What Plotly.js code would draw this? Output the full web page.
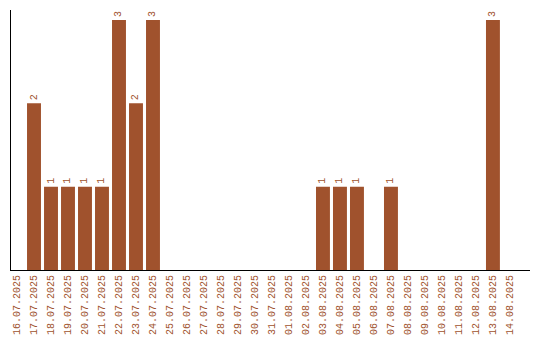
<!DOCTYPE html>
<html><head><meta charset="utf-8">
<script src="https://cdn.plot.ly/plotly-3.0.1.min.js"></script>
<style>html,body{margin:0;padding:0;background:#fff;}#chart{width:540px;height:340px;}</style>
</head><body><div id="chart"></div>
<script>
const dates = ["16.07.2025","17.07.2025","18.07.2025","19.07.2025","20.07.2025","21.07.2025","22.07.2025","23.07.2025","24.07.2025","25.07.2025","26.07.2025","27.07.2025","28.07.2025","29.07.2025","30.07.2025","31.07.2025","01.08.2025","02.08.2025","03.08.2025","04.08.2025","05.08.2025","06.08.2025","07.08.2025","08.08.2025","09.08.2025","10.08.2025","11.08.2025","12.08.2025","13.08.2025","14.08.2025"];
const counts = [0,2,1,1,1,1,3,2,3,0,0,0,0,0,0,0,0,0,1,1,1,0,1,0,0,0,0,0,3,0];
const labels = counts.map(v => v > 0 ? String(v) : "");
const color = "#a0522d";
const font = "Liberation Mono, monospace";
Plotly.newPlot("chart", [{
  type: "bar", x: dates, y: counts, text: labels,
  textposition: "outside", textangle: -90, cliponaxis: false,
  textfont: {family: font, size: 10, color: color},
  marker: {color: color}, hoverinfo: "none"
}], {
  width: 540, height: 340,
  margin: {l: 11, r: 10, t: 10, b: 70, pad: 0},
  paper_bgcolor: "#fff", plot_bgcolor: "#fff",
  bargap: 0.18, showlegend: false,
  font: {family: font, size: 10, color: color},
  xaxis: {type: "category", range: [-0.353, 30.18], showline: true, linecolor: "#000", linewidth: 1,
          ticks: "", tickangle: -90, tickfont: {family: font, size: 10, color: color},
          showgrid: false, zeroline: false, fixedrange: true},
  yaxis: {range: [0, 3.12], showline: true, linecolor: "#000", linewidth: 1, showticklabels: false,
          ticks: "", showgrid: false, zeroline: false, fixedrange: true}
}, {staticPlot: true, displayModeBar: false});
</script></body></html>
